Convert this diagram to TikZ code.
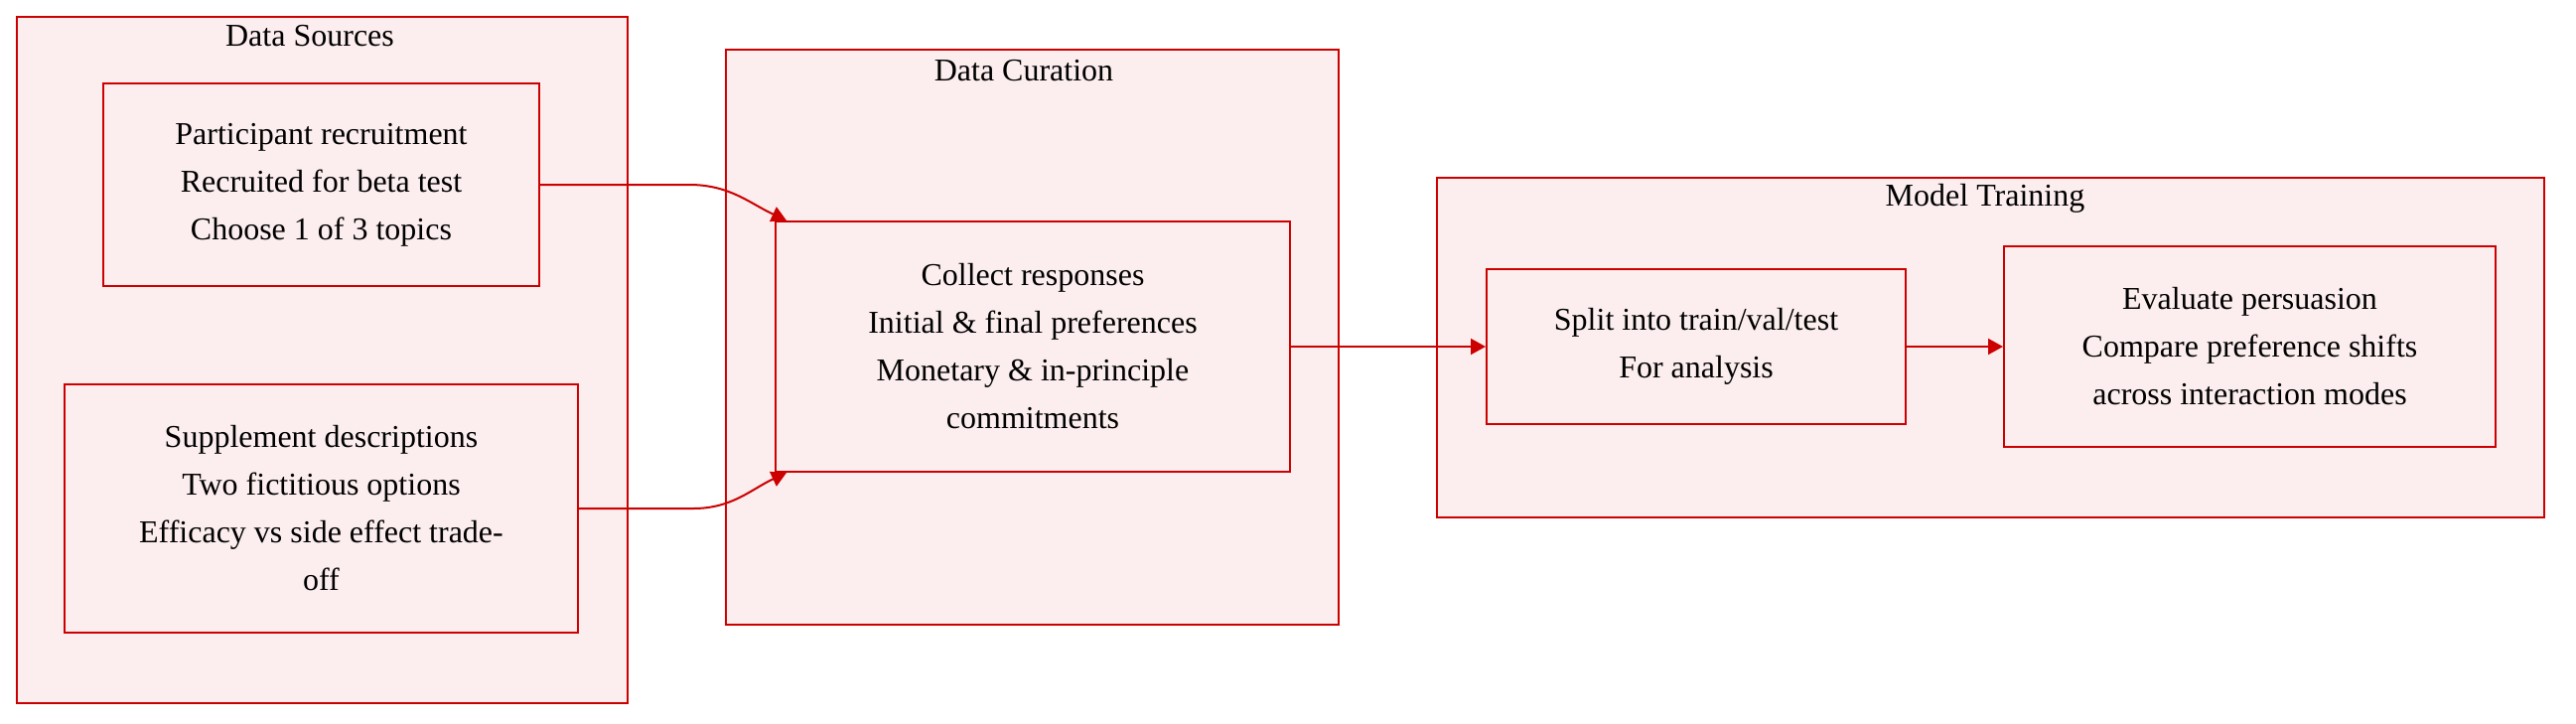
\documentclass[tikz,border=0pt]{standalone}
\usepackage{fontspec}
\setmainfont{Liberation Serif}
\usetikzlibrary{arrows.meta}

\definecolor{boxred}{HTML}{CC0000}
\definecolor{boxfill}{HTML}{FCEEEE}

\begin{document}
\begin{tikzpicture}[x=0.5pt, y=-0.5pt,
  group/.style={rectangle, draw=boxred, fill=boxfill, line width=1pt, inner sep=0pt},
  stage/.style={rectangle, draw=boxred, fill=boxfill, line width=1pt, inner sep=0pt,
    align=center, font=\fontsize{16}{24}\selectfont},
  title/.style={inner sep=0pt, font=\fontsize{16}{24}\selectfont},
  flow/.style={draw=boxred, line width=1pt, -{Triangle[length=7.5pt, width=8pt]}}
]
\useasboundingbox (0,0) rectangle (2594,728);

% Groups
\node[group, minimum width=307.75pt, minimum height=345.75pt] (sources) at (324.25,362.25) {};
\node[group, minimum width=308.5pt, minimum height=289.5pt] (curation) at (1039.5,339.5) {};
\node[group, minimum width=557.5pt, minimum height=171pt] (training) at (2004.5,350) {};

\node[title] (sourcestitle) at (312,36) {Data Sources};
\node[title] (curationtitle) at (1031,71) {Data Curation};
\node[title] (trainingtitle) at (1999,200) {Model Training};

% Define nodes
\node[stage, minimum width=219.5pt, minimum height=102pt] (recruit) at (323.5,186)
  {Participant recruitment\\Recruited for beta test\\Choose 1 of 3 topics};
\node[stage, minimum width=258.5pt, minimum height=125pt] (supplement) at (323.5,512)
  {Supplement descriptions\\Two fictitious options\\Efficacy vs side effect trade-\\off};
\node[stage, minimum width=259pt, minimum height=126pt] (collect) at (1040,349)
  {Collect responses\\Initial \& final preferences\\Monetary \& in-principle\\commitments};
\node[stage, minimum width=211pt, minimum height=78pt] (split) at (1708,349)
  {Split into train/val/test\\For analysis};
\node[stage, minimum width=247.5pt, minimum height=101pt] (evaluate) at (2265.5,349)
  {Evaluate persuasion\\Compare preference shifts\\across interaction modes};

% Edges
\draw[flow] (recruit.east) -- ++(150,0) to[out=0, in=155] ([xshift=6pt]collect.north west);
\draw[flow] (supplement.east) -- ++(115,0) to[out=0, in=-155] ([xshift=6pt]collect.south west);
\draw[flow] (collect.east) -- (split.west);
\draw[flow] (split.east) -- (evaluate.west);

\end{tikzpicture}
\end{document}
